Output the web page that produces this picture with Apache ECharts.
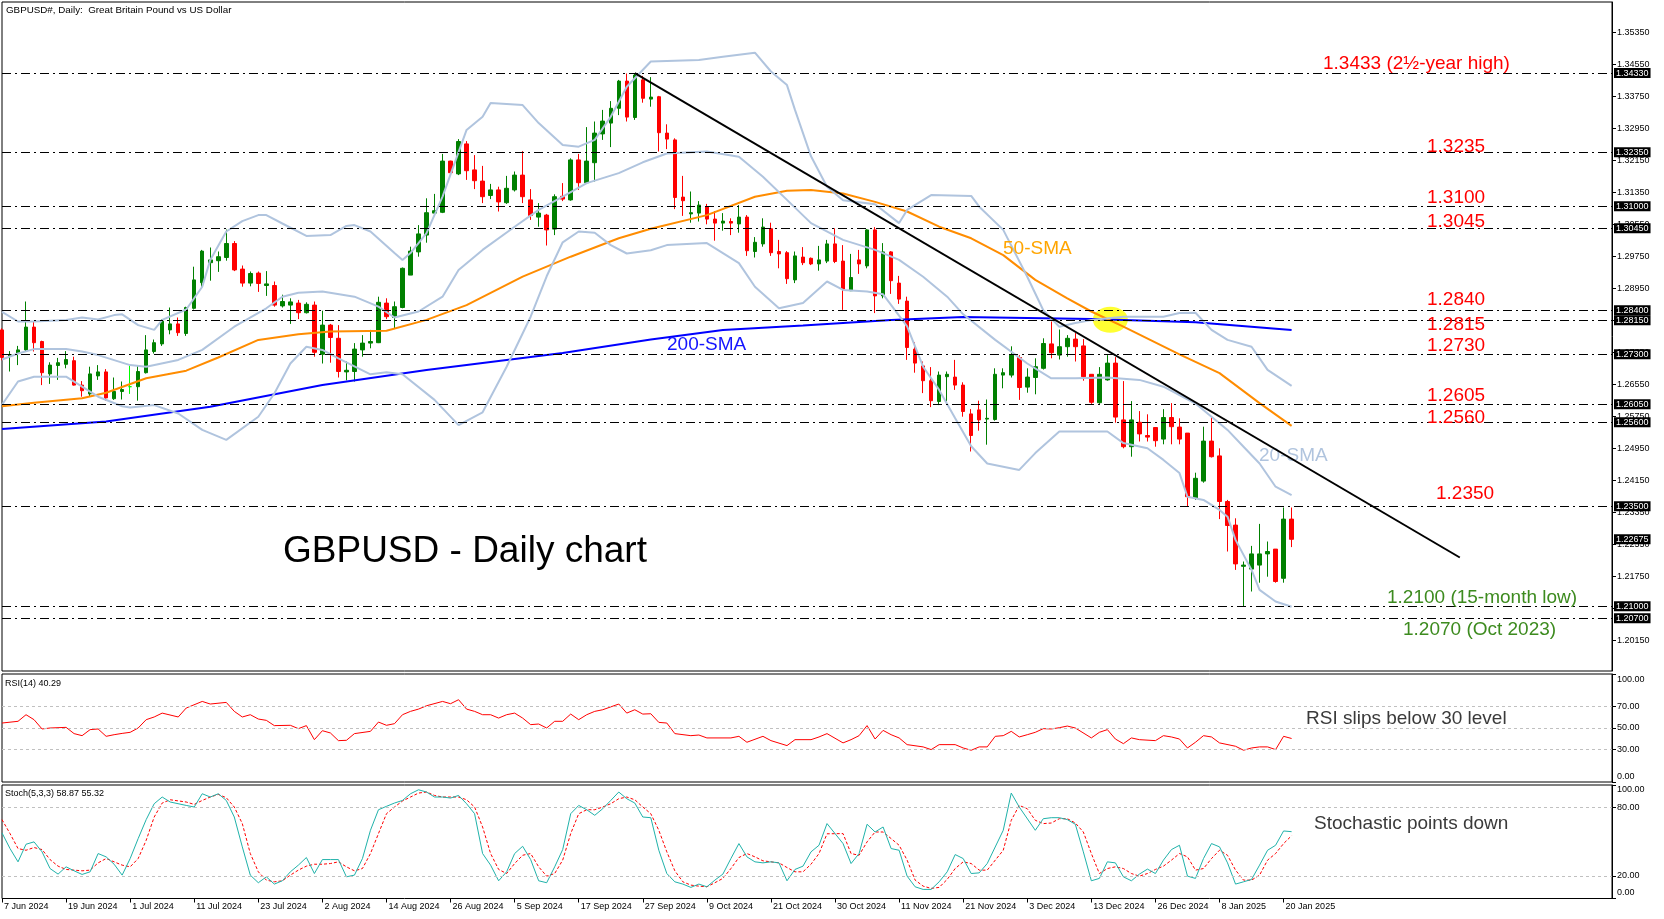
<!DOCTYPE html>
<html><head><meta charset="utf-8">
<script src="https://cdn.jsdelivr.net/npm/echarts@6/dist/echarts.min.js"></script>
<style>html,body{margin:0;padding:0;background:#fff}#c{width:1664px;height:919px}</style>
</head><body><div id="c"></div>
<script>
// ---------------- DATA ----------------
const dateLabels = ['7 Jun 2024','19 Jun 2024','1 Jul 2024','11 Jul 2024','23 Jul 2024','2 Aug 2024','14 Aug 2024','26 Aug 2024','5 Sep 2024','17 Sep 2024','27 Sep 2024','9 Oct 2024','21 Oct 2024','30 Oct 2024','11 Nov 2024','21 Nov 2024','3 Dec 2024','13 Dec 2024','26 Dec 2024','8 Jan 2025','20 Jan 2025'];
const barsPerLabel = 8;
const totalSlots = 202;
// [open, close, low, high]
const ohlc = [
[1.2791,1.2722,1.2715,1.2795],[1.2725,1.2729,1.2687,1.2738],[1.2732,1.2741,1.2703,1.2751],[1.2741,1.2798,1.2738,1.2862],[1.2798,1.2759,1.2737,1.2812],
[1.2762,1.2684,1.2653,1.2764],[1.2681,1.2703,1.2656,1.2710],[1.2702,1.2709,1.2666,1.2721],[1.2705,1.2717,1.2695,1.2738],[1.2714,1.2653,1.2652,1.2724],
[1.2653,1.2639,1.2624,1.2663],[1.2631,1.2681,1.2624,1.2699],[1.2676,1.2686,1.2666,1.2703],[1.2686,1.2621,1.2614,1.2693],[1.2619,1.2637,1.2616,1.2672],
[1.2637,1.2642,1.2617,1.2662],[1.2649,1.2649,1.2631,1.2702],[1.2649,1.2687,1.2614,1.2703],[1.2684,1.2741,1.2682,1.2778],[1.2737,1.2759,1.2732,1.2767],
[1.2756,1.2813,1.2751,1.2818],[1.2791,1.2806,1.2780,1.2847],[1.2806,1.2784,1.2776,1.2822],[1.2782,1.2847,1.2776,1.2849],[1.2845,1.2916,1.2842,1.2949],
[1.2909,1.2988,1.2899,1.2991],[1.2959,1.2966,1.2914,1.2997],[1.2964,1.2974,1.2936,1.2987],[1.2972,1.3007,1.2964,1.3042],[1.3007,1.2941,1.2938,1.3013],
[1.2943,1.2908,1.2899,1.2952],[1.2908,1.2932,1.2900,1.2937],[1.2933,1.2907,1.2886,1.2937],[1.2902,1.2906,1.2876,1.2938],[1.2902,1.2853,1.2849,1.2912],
[1.2851,1.2862,1.2847,1.2879],[1.2853,1.2861,1.2806,1.2870],[1.2858,1.2834,1.2818,1.2866],[1.2834,1.2855,1.2832,1.2860],[1.2853,1.2735,1.2724,1.2862],
[1.2730,1.2803,1.2707,1.2839],[1.2803,1.2772,1.2709,1.2806],[1.2770,1.2687,1.2672,1.2803],[1.2686,1.2690,1.2665,1.2712],[1.2687,1.2743,1.2662,1.2758],
[1.2741,1.2758,1.2724,1.2778],[1.2758,1.2762,1.2745,1.2791],[1.2759,1.2860,1.2758,1.2874],[1.2858,1.2824,1.2818,1.2870],[1.2822,1.2849,1.2795,1.2862],
[1.2847,1.2945,1.2845,1.2947],[1.2928,1.2988,1.2928,1.2999],[1.2986,1.3031,1.2974,1.3053],[1.3028,1.3084,1.3009,1.3120],[1.3083,1.3089,1.3077,1.3131],
[1.3085,1.3213,1.3083,1.3231],[1.3213,1.3184,1.3178,1.3214],[1.3181,1.3262,1.3178,1.3268],[1.3256,1.3189,1.3166,1.3263],[1.3191,1.3164,1.3143,1.3228],
[1.3163,1.3124,1.3108,1.3201],[1.3127,1.3141,1.3118,1.3156],[1.3141,1.3111,1.3087,1.3149],[1.3109,1.3145,1.3106,1.3176],[1.3141,1.3178,1.3137,1.3187],
[1.3178,1.3124,1.3108,1.3238],[1.3116,1.3077,1.3066,1.3143],[1.3073,1.3083,1.3049,1.3108],[1.3078,1.3041,1.3002,1.3081],[1.3043,1.3124,1.3028,1.3130],
[1.3125,1.3118,1.3113,1.3158],[1.3116,1.3216,1.3114,1.3220],[1.3216,1.3159,1.3141,1.3231],[1.3159,1.3213,1.3156,1.3298],[1.3209,1.3283,1.3162,1.3312],
[1.3281,1.3313,1.3266,1.3341],[1.3308,1.3345,1.3248,1.3363],[1.3345,1.3413,1.3328,1.3416],[1.3413,1.3323,1.3312,1.3432],[1.3322,1.3428,1.3316,1.3433],
[1.3416,1.3370,1.3359,1.3426],[1.3368,1.3373,1.3349,1.3423],[1.3374,1.3284,1.3237,1.3376],[1.3283,1.3268,1.3243,1.3305],[1.3266,1.3122,1.3093,1.3270],
[1.3123,1.3114,1.3076,1.3176],[1.3081,1.3084,1.3059,1.3137],[1.3083,1.3103,1.3062,1.3113],[1.3099,1.3068,1.3055,1.3106],[1.3068,1.3058,1.3014,1.3088],
[1.3058,1.3063,1.3039,1.3083],[1.3062,1.3058,1.3028,1.3070],[1.3056,1.3073,1.3034,1.3103],[1.3073,1.2989,1.2976,1.3078],[1.2987,1.3010,1.2972,1.3023],
[1.3006,1.3048,1.2999,1.3070],[1.3044,1.2984,1.2976,1.3059],[1.2987,1.2981,1.2945,1.3016],[1.2984,1.2919,1.2906,1.2988],[1.2916,1.2976,1.2908,1.2987],
[1.2973,1.2959,1.2953,1.2998],[1.2970,1.2956,1.2953,1.2972],[1.2956,1.2966,1.2939,1.3001],[1.2963,1.3006,1.2958,1.3016],[1.3006,1.2962,1.2958,1.3045],
[1.2963,1.2893,1.2841,1.3003],[1.2889,1.2922,1.2888,1.2981],[1.2966,1.2956,1.2931,1.2991],[1.2951,1.3041,1.2945,1.3043],[1.3041,1.2876,1.2833,1.3048],
[1.2876,1.2986,1.2870,1.3008],[1.2986,1.2914,1.2881,1.2988],[1.2908,1.2868,1.2856,1.2926],[1.2863,1.2747,1.2716,1.2874],[1.2743,1.2708,1.2684,1.2760],
[1.2701,1.2664,1.2633,1.2712],[1.2664,1.2614,1.2598,1.2698],[1.2612,1.2678,1.2603,1.2687],[1.2674,1.2680,1.2612,1.2687],[1.2673,1.2653,1.2641,1.2716],
[1.2653,1.2587,1.2574,1.2660],[1.2581,1.2527,1.2487,1.2593],[1.2591,1.2566,1.2539,1.2614],[1.2568,1.2570,1.2504,1.2617],[1.2567,1.2680,1.2564,1.2695],
[1.2678,1.2684,1.2645,1.2695],[1.2678,1.2728,1.2672,1.2750],[1.2722,1.2647,1.2616,1.2728],[1.2648,1.2673,1.2634,1.2695],[1.2672,1.2699,1.2630,1.2720],
[1.2695,1.2757,1.2692,1.2770],[1.2756,1.2734,1.2720,1.2812],[1.2728,1.2749,1.2717,1.2792],[1.2749,1.2770,1.2724,1.2778],[1.2768,1.2749,1.2712,1.2783],
[1.2751,1.2674,1.2664,1.2768],[1.2680,1.2610,1.2606,1.2680],[1.2609,1.2680,1.2606,1.2698],[1.2666,1.2708,1.2664,1.2728],[1.2708,1.2573,1.2559,1.2723],
[1.2566,1.2499,1.2495,1.2663],[1.2499,1.2566,1.2474,1.2613],[1.2560,1.2531,1.2512,1.2588],[1.2527,1.2523,1.2512,1.2580],[1.2547,1.2514,1.2499,1.2547],
[1.2518,1.2572,1.2505,1.2593],[1.2572,1.2549,1.2505,1.2608],[1.2548,1.2518,1.2505,1.2570],[1.2533,1.2374,1.2349,1.2533],[1.2370,1.2420,1.2366,1.2434],
[1.2413,1.2513,1.2409,1.2549],[1.2513,1.2474,1.2472,1.2574],[1.2476,1.2362,1.2318,1.2495],[1.2362,1.2302,1.2237,1.2366],[1.2303,1.2206,1.2191,1.2320],
[1.2200,1.2203,1.2100,1.2212],[1.2193,1.2231,1.2137,1.2251],[1.2203,1.2231,1.2159,1.2306],[1.2231,1.2237,1.2174,1.2262],[1.2243,1.2162,1.2159,1.2243],
[1.2170,1.2318,1.2159,1.2347],[1.2318,1.22675,1.2248,1.2347]
];
const dojiBars = [16];

const bbUpper = [[0,1.2836],[2,1.2812],[4,1.2812],[8,1.2816],[10,1.2822],[12,1.2817],[14,1.2828],[15,1.2830],[17,1.2803],[19,1.2791],[20,1.2816],[23,1.2842],[25,1.2899],[26,1.2966],[28,1.3037],[30,1.3063],[32,1.3078],[33,1.3078],[35,1.3057],[38,1.3026],[41,1.3028],[43,1.3051],[44,1.3053],[46,1.3037],[49,1.2983],[50,1.2966],[51,1.2983],[53,1.3033],[55,1.3124],[58,1.3291],[60,1.3324],[61,1.3358],[65,1.3353],[67,1.3308],[70,1.3253],[72,1.3249],[74,1.3266],[76,1.3324],[78,1.3399],[81,1.3462],[87,1.3466],[90,1.3474],[94,1.3484],[96,1.3437],[98,1.3403],[99,1.3341],[101,1.3225],[103,1.3149],[105,1.3115],[109,1.3105],[112,1.3058],[113,1.3091],[116,1.3128],[121,1.3126],[122,1.3099],[125,1.3041],[128,1.2924],[130,1.2840],[132,1.2799],[134,1.2808],[136,1.2816],[140,1.2824],[145,1.2824],[147,1.2833],[149,1.2834],[151,1.2791],[153,1.2766],[156,1.2749],[158,1.2691],[161,1.2651]];
const bbMiddle = [[0,1.2717],[2,1.2732],[4,1.2743],[8,1.2743],[10,1.2737],[12,1.2728],[16,1.2703],[18,1.2699],[22,1.2716],[25,1.2741],[29,1.2799],[33,1.2845],[35,1.2874],[37,1.2884],[40,1.2887],[44,1.2874],[47,1.2849],[49,1.2822],[52,1.2837],[55,1.2874],[57,1.2941],[60,1.2991],[64,1.3049],[67,1.3091],[70,1.3124],[73,1.3158],[77,1.3183],[80,1.3210],[83,1.3232],[88,1.3237],[92,1.3224],[95,1.3174],[98,1.3116],[101,1.3058],[105,1.3016],[109,1.2991],[112,1.2966],[115,1.2924],[118,1.2874],[120,1.2830],[124,1.2766],[128,1.2707],[131,1.2670],[134,1.2670],[138,1.2672],[142,1.2666],[145,1.2649],[149,1.2607],[151,1.2574],[153,1.2541],[155,1.2499],[157,1.2457],[159,1.2399],[161,1.2378]];
const bbLower = [[0,1.2604],[2,1.2662],[4,1.2674],[8,1.2674],[10,1.2649],[12,1.2624],[15,1.2600],[16,1.2597],[19,1.2603],[22,1.2582],[25,1.2541],[28,1.2516],[32,1.2574],[34,1.2632],[36,1.2707],[38,1.2749],[40,1.2741],[42,1.2720],[44,1.2700],[46,1.2680],[48,1.2685],[50,1.2680],[54,1.2616],[57,1.2553],[60,1.2585],[63,1.2699],[66,1.2824],[68,1.2925],[70,1.3010],[72,1.3037],[74,1.3034],[76,1.3003],[78,1.2982],[81,1.2990],[83,1.3003],[88,1.3008],[92,1.2958],[94,1.2899],[97,1.2845],[100,1.2858],[103,1.2912],[105,1.2891],[108,1.2887],[110,1.2880],[113,1.2800],[114,1.2749],[115,1.2699],[117,1.2641],[119,1.2570],[121,1.2500],[123,1.2457],[127,1.2441],[129,1.2483],[132,1.2537],[138,1.2537],[140,1.2508],[143,1.2495],[145,1.2466],[147,1.2433],[148,1.2374],[150,1.2366],[152,1.2341],[153,1.2324],[154,1.2266],[156,1.2191],[157,1.2141],[159,1.2112],[161,1.2099]];
const sma50 = [[0,1.2600],[4,1.2609],[10,1.2620],[13,1.2634],[18,1.2670],[23,1.2689],[27,1.2722],[32,1.2766],[37,1.2780],[41,1.2787],[48,1.2789],[53,1.2816],[58,1.2853],[65,1.2924],[71,1.2974],[77,1.3020],[81,1.3044],[88,1.3078],[94,1.3124],[98,1.3139],[101,1.3141],[105,1.3132],[109,1.3111],[113,1.3087],[117,1.3049],[121,1.3020],[125,1.2978],[129,1.2916],[133,1.2870],[136,1.2837],[140,1.2799],[147,1.2730],[152,1.2683],[157,1.2608],[161,1.2551]];
const sma200 = [[0,1.2543],[13,1.2562],[26,1.2599],[40,1.2653],[53,1.2691],[70,1.2733],[81,1.2767],[90,1.2791],[100,1.2802],[111,1.2816],[120,1.2823],[136,1.2818],[149,1.2810],[161,1.2791]];
const trendLine = [[79,1.3433],[182,1.2222]];
const crossMarker = [[138,1.28165]];

const levels = [1.3433,1.3235,1.3100,1.3045,1.2840,1.2815,1.2730,1.2605,1.2560,1.2350,1.2100,1.2070];
const lastPrice = 1.22675;
const priceTicks = [1.3535,1.3455,1.3375,1.3295,1.3215,1.3135,1.3055,1.2975,1.2895,1.2815,1.2735,1.2655,1.2575,1.2495,1.2415,1.2335,1.2255,1.2175,1.2095,1.2015];
const rsiTicks = [0,30,50,70,100];
const rsiLevels = [70,50,30];
const stochTicks = [0,20,80,100];
const stochLevels = [80,20];

const rsi = [[0,54.6],[2,56.2],[3,62.3],[4,57.7],[5,49.1],[6,50],[8,50.6],[9,44.8],[10,42.9],[11,48.5],[12,49.1],[13,42.3],[14,43.8],[15,45],[16,46],[17,50],[18,57.7],[19,60.2],[20,63.8],[22,60.2],[23,68.5],[25,74.6],[26,72.2],[28,73.7],[29,65.4],[30,60.2],[31,62.3],[32,58.3],[33,57.1],[34,52.2],[36,52.5],[37,49.4],[38,52.2],[39,39.2],[40,47.5],[41,45.4],[42,38.3],[43,38.6],[44,44.8],[46,46.9],[47,55.5],[48,52.5],[49,54],[50,62.3],[51,65.4],[52,67.5],[53,70.6],[55,74.6],[56,72.5],[57,76.2],[58,67.5],[59,65.4],[60,62.3],[61,62.3],[62,59.2],[63,62.3],[64,63.8],[65,59.2],[66,53.1],[67,53.7],[68,50],[69,56.2],[70,56.2],[71,62.9],[72,57.7],[73,62.3],[74,65.4],[75,66.9],[77,72.2],[78,63.8],[79,66.9],[80,62.9],[81,63.2],[82,55.2],[83,54.6],[84,44.8],[86,42.9],[87,43.5],[88,40.8],[91,40.8],[92,42.3],[93,36.8],[95,42.3],[96,38.3],[98,33.7],[99,39.2],[101,39.2],[102,41.7],[103,44.8],[105,36.2],[106,39.2],[107,42.9],[108,52.2],[109,39.8],[110,47.8],[111,43.8],[112,40.8],[113,34.6],[115,32.5],[116,30],[117,34.6],[119,34.6],[120,31.5],[121,29.4],[122,32.5],[123,32.5],[124,42.3],[125,42.9],[126,46.9],[127,41.7],[128,43.8],[129,46],[130,49.4],[131,49.1],[132,50.3],[133,51.8],[134,50],[136,40.8],[137,46],[138,48.5],[139,39.8],[140,35.5],[141,40.8],[142,39.2],[144,38.3],[145,42.9],[146,41.7],[147,39.8],[148,31.5],[149,36.8],[150,42.9],[151,41.7],[152,36.2],[154,33.1],[155,29.4],[156,31.5],[157,32.5],[158,32.5],[159,30],[160,42.3],[161,40.29]];
const stochK = [[0,57.8],[1,44],[2,32.3],[3,47.8],[4,49.9],[5,41.1],[6,26.4],[7,21.5],[8,27.9],[9,24.4],[10,21.2],[11,23.5],[12,39.6],[13,36.7],[14,30.2],[15,20.6],[16,35.2],[17,52.8],[18,69.5],[19,83.5],[20,89.4],[21,85],[23,82],[24,80.6],[25,92.3],[26,89.4],[27,92.3],[28,86.4],[29,71.8],[30,45.5],[31,20.6],[32,13.9],[33,19.1],[34,12.7],[35,15.6],[36,23.5],[37,29.4],[38,36.1],[39,22],[40,34.3],[41,34.3],[42,34.3],[43,19.1],[44,20.6],[45,35.2],[46,60.1],[47,78.2],[48,81.2],[49,84.1],[50,86.4],[51,92.3],[52,95.8],[53,93.8],[54,89.4],[55,89.4],[56,88.5],[57,90.8],[58,83.5],[59,74.7],[60,39.6],[61,29.4],[62,15.6],[63,23.5],[64,39.6],[65,46],[66,34.3],[67,15.6],[68,13.9],[69,27.9],[70,43.1],[71,74.7],[72,82],[73,78.2],[74,73.3],[75,79.1],[76,86.4],[77,93.8],[78,87.9],[79,84.1],[80,71.8],[81,71.2],[82,42.5],[83,22],[84,14.7],[85,12.7],[86,9.8],[87,12.7],[88,10.3],[89,16.2],[90,21.5],[91,35.2],[92,48.4],[93,36.7],[94,32.3],[95,31.4],[96,32.3],[97,31.4],[98,15.6],[99,25.6],[100,28.5],[101,41.1],[102,46.9],[103,66],[105,48.4],[106,30.8],[107,39.6],[108,65.4],[109,58.6],[110,63],[111,44],[112,42.5],[113,19.7],[114,10.3],[115,8],[116,8],[117,14.7],[118,23.5],[119,38.7],[120,35.2],[121,22],[122,22.6],[123,30.8],[125,60.1],[126,92.9],[127,80.6],[129,60.1],[130,70.3],[131,71.2],[132,71.2],[133,69.5],[134,65.4],[135,41.1],[136,15.6],[137,17.7],[138,32.3],[139,31.4],[140,19.1],[141,15.6],[142,21.5],[143,25.9],[144,22],[145,33.8],[146,43.1],[147,46.9],[148,19.7],[149,17.7],[150,35.2],[151,48.4],[152,45.5],[153,31.4],[154,12.7],[155,14.7],[156,16.8],[157,29.4],[158,42.5],[159,46.9],[160,59.5],[161,58.87]];
const stochD = [[0,69.5],[1,57.2],[2,44],[3,42.5],[4,44.9],[5,43.1],[6,34.3],[7,28.5],[8,25.6],[9,25],[10,24.4],[11,25],[12,31.4],[13,35.2],[14,32.3],[15,29.4],[16,27.9],[17,35.2],[18,51.3],[19,71.8],[20,84.1],[21,87],[23,85],[24,82.9],[25,86.4],[26,89.4],[27,91.7],[28,88.8],[29,80.6],[30,66],[31,39.6],[32,23.5],[33,16.2],[34,14.7],[35,15.6],[36,20.6],[37,25],[38,28.5],[39,30.2],[40,30.2],[41,30.8],[42,32.3],[43,27.9],[44,24.4],[45,26.4],[46,39.6],[47,57.2],[48,74.7],[49,80.6],[50,85.9],[51,89.4],[52,92.9],[53,93.8],[54,90.8],[55,89.4],[56,89.4],[57,89.4],[58,87],[59,80.6],[60,63],[61,39.6],[62,25.6],[63,22],[64,30.8],[65,38.1],[66,39.6],[67,27.9],[68,19.7],[69,22],[70,33.8],[71,57.2],[72,74.7],[73,78.2],[74,78.2],[75,80.6],[76,83.5],[77,87.9],[78,89.4],[79,87],[80,80.6],[81,74.7],[82,60.1],[83,41.1],[84,24.4],[85,14.7],[86,11.8],[87,10.9],[88,10.3],[89,13.9],[90,17.7],[91,26.4],[92,36.1],[93,39.6],[94,36.7],[95,33.2],[96,32.3],[97,31.4],[98,27.3],[99,23.5],[100,23.5],[101,30.2],[102,39.6],[103,57],[105,57.2],[106,39.6],[107,38.1],[108,49.9],[109,58.6],[110,58.6],[111,52.8],[112,46.9],[113,33.8],[114,16.2],[115,10.9],[116,8.9],[117,9.8],[118,16.8],[119,26.4],[120,32.3],[121,30.8],[122,25],[123,25],[125,42.5],[126,68.9],[127,82],[128,79.1],[129,68.9],[130,66],[131,66.5],[132,70.3],[133,70.3],[134,66.5],[135,58.6],[136,39.6],[137,22],[138,26.4],[139,27.9],[140,26.4],[141,22],[142,19.7],[143,22],[144,25.6],[145,28.5],[146,33.8],[147,39.6],[148,36.7],[149,25],[150,26.4],[151,35.2],[152,42.5],[153,38.1],[154,25],[155,16.2],[156,16.2],[157,20.6],[158,33.8],[159,39.6],[160,48.4],[161,55.32]];

// ---------------- CHART ----------------
const SMALL = '"Liberation Sans", Arial, sans-serif';
const slots = Array.from({length: totalSlots}, (_, i) => String(i));
const isLabelSlot = (i) => i % barsPerLabel === 0 && (i / barsPerLabel) < dateLabels.length;

const candleData = ohlc.map((v, i) => dojiBars.includes(i)
  ? {value: v, itemStyle: {color:'#00ff00', color0:'#00ff00', borderColor:'#00ff00', borderColor0:'#00ff00'}}
  : v);

function lineS(data, color, width, z, xi, yi, extra) {
  return Object.assign({type:'line', data, xAxisIndex:xi, yAxisIndex:yi, symbol:'none', showSymbol:false,
    lineStyle:{color, width}, itemStyle:{color}, z, silent:true, animation:false}, extra || {});
}
const smallLbl = {fontSize:9, fontFamily:SMALL, color:'#000'};
const boxLabel = {show:true, position:'end', distance:2, formatter:(p)=>Number(p.value).toFixed(5),
  color:'#fff', backgroundColor:'#000', padding:[1,2,0,2], fontSize:9, fontFamily:SMALL};

const option = {
  animation: false,
  backgroundColor: '#fff',
  grid: [
    {left:2, right:52, top:2, height:669, show:true, borderColor:'#000', borderWidth:1, backgroundColor:'transparent'},
    {left:2, right:52, top:674, height:108, show:true, borderColor:'#000', borderWidth:1},
    {left:2, right:52, top:785, height:113.5, show:true, borderColor:'#000', borderWidth:1}
  ],
  xAxis: [
    {type:'category', gridIndex:0, data:slots, boundaryGap:false, show:false},
    {type:'category', gridIndex:1, data:slots, boundaryGap:false, show:false},
    {type:'category', gridIndex:2, data:slots, boundaryGap:false,
      axisLine:{show:false},
      axisTick:{show:true, interval:(i)=>isLabelSlot(i), length:4, lineStyle:{color:'#000'}},
      axisLabel:{show:true, interval:(i)=>isLabelSlot(i), align:'left', margin:4, padding:[0,0,0,2],
        formatter:(v, i)=> isLabelSlot(i) ? dateLabels[i / barsPerLabel] : '', ...smallLbl},
      splitLine:{show:false}}
  ],
  yAxis: [
    {type:'value', gridIndex:0, position:'right', min:1.193825, max:1.361075, splitLine:{show:false},
      axisLine:{show:true, lineStyle:{color:'#000'}},
      axisTick:{show:true, length:4, customValues:priceTicks, lineStyle:{color:'#000'}},
      axisLabel:{show:true, customValues:priceTicks, margin:5, formatter:(v)=>v.toFixed(5), ...smallLbl}},
    {type:'value', gridIndex:1, position:'right', min:0, max:100, splitLine:{show:false},
      axisLine:{show:true, lineStyle:{color:'#000'}},
      axisTick:{show:true, length:4, customValues:rsiTicks, lineStyle:{color:'#000'}},
      axisLabel:{show:true, customValues:rsiTicks, margin:5,
        formatter:(v)=> v===100 ? '{t|100.00}' : v===0 ? '{b|0.00}' : v.toFixed(2),
        rich:{t:{padding:[12,0,0,0], ...smallLbl}, b:{padding:[0,0,11,0], ...smallLbl}}, ...smallLbl}},
    {type:'value', gridIndex:2, position:'right', min:0, max:100, splitLine:{show:false},
      axisLine:{show:true, lineStyle:{color:'#000'}},
      axisTick:{show:true, length:4, customValues:stochTicks, lineStyle:{color:'#000'}},
      axisLabel:{show:true, customValues:stochTicks, margin:5,
        formatter:(v)=> v===100 ? '{t|100.00}' : v===0 ? '{b|0.00}' : v.toFixed(2),
        rich:{t:{padding:[10,0,0,0], ...smallLbl}, b:{padding:[0,0,12,0], ...smallLbl}}, ...smallLbl}}
  ],
  series: [
    {type:'scatter', xAxisIndex:0, yAxisIndex:0, data:crossMarker, symbol:'circle', symbolSize:[35,26], symbolOffset:[3,0],
      itemStyle:{color:'#ffff00'}, z:1, silent:true},
    {type:'candlestick', xAxisIndex:0, yAxisIndex:0, data:candleData, barWidth:4, z:2,
      itemStyle:{color:'#008000', color0:'#ff0000', borderColor:'#008000', borderColor0:'#ff0000', borderWidth:1},
      markLine:{silent:true, symbol:['none','none'], animation:false, precision:5,
        lineStyle:{color:'#000', width:1, type:[9,4,2,4]},
        label:boxLabel,
        data: levels.map(v => ({yAxis:v})).concat([{yAxis:lastPrice, lineStyle:{color:'rgba(0,0,0,0)', width:0.01},
          label:boxLabel}])}},
    lineS(sma200, '#0000ff', 2, 3, 0, 0),
    lineS(sma50, '#ff8c00', 2, 3, 0, 0),
    lineS(bbUpper, '#b0c4de', 2, 3, 0, 0),
    lineS(bbMiddle, '#b0c4de', 2, 3, 0, 0),
    lineS(bbLower, '#b0c4de', 2, 3, 0, 0),
    lineS(trendLine, '#000000', 2, 6, 0, 0),
    lineS(rsi, '#ff0000', 1, 3, 1, 1, {markLine:{silent:true, symbol:['none','none'], label:{show:false}, precision:2,
      lineStyle:{color:'#c0c0c0', width:1, type:[3,3]}, data: rsiLevels.map(v=>({yAxis:v}))}}),
    lineS(stochK, '#20b2aa', 1, 4, 2, 2, {markLine:{silent:true, symbol:['none','none'], label:{show:false}, precision:2,
      lineStyle:{color:'#c0c0c0', width:1, type:[3,3]}, data: stochLevels.map(v=>({yAxis:v}))}}),
    lineS(stochD, '#ff0000', 1, 3, 2, 2, {lineStyle:{color:'#ff0000', width:1, type:[3,2]}})
  ],
  graphic: {elements: []}
};

const BIG = (px) => 'normal ' + px + 'px "Liberation Sans", Arial, sans-serif';
const notes = [
  ['GBPUSD#, Daily:  Great Britain Pound vs US Dollar', 6, 10, BIG(9.8), '#000', 50],
  ['1.3433 (2\u00bd-year high)', 1323, 64, BIG(19), '#ff0000', 50],
  ['1.3235', 1427, 146.5, BIG(19), '#ff0000', 50],
  ['1.3100', 1427, 198, BIG(19), '#ff0000', 50],
  ['1.3045', 1427, 221.5, BIG(19), '#ff0000', 50],
  ['1.2840', 1427, 300, BIG(19), '#ff0000', 50],
  ['1.2815', 1427, 325, BIG(19), '#ff0000', 50],
  ['1.2730', 1427, 346, BIG(19), '#ff0000', 50],
  ['1.2605', 1427, 396, BIG(19), '#ff0000', 50],
  ['1.2560', 1427, 417.5, BIG(19), '#ff0000', 50],
  ['1.2350', 1436, 494, BIG(19), '#ff0000', 50],
  ['1.2100 (15-month low)', 1387, 598, BIG(19), '#3d8b1f', 50],
  ['1.2070 (Oct 2023)', 1403, 630, BIG(19), '#3d8b1f', 50],
  ['50-SMA', 1003, 248.5, BIG(19), '#ffa500', 50],
  ['200-SMA', 667, 345, BIG(19), '#1414ff', 50],
  ['20-SMA', 1259, 455.5, BIG(19), '#b0c4de', 1],
  ['GBPUSD - Daily chart', 283, 552, BIG(37), '#000', 50],
  ['RSI(14) 40.29', 5, 683.5, BIG(9), '#000', 50],
  ['RSI slips below 30 level', 1306, 719, BIG(19), '#3a3a3a', 50],
  ['Stoch(5,3,3) 58.87 55.32', 5, 793.5, BIG(9), '#000', 50],
  ['Stochastic points down', 1314, 823.5, BIG(19), '#3a3a3a', 50]
];
option.graphic.elements = notes.map(n => ({type:'text', x:n[1], y:n[2], z:n[5], silent:true,
  style:{text:n[0], font:n[3], fill:n[4], align:'left', verticalAlign:'middle', textAlign:'left', textVerticalAlign:'middle'}}));

const chart = echarts.init(document.getElementById('c'), null, {renderer:'canvas'});
chart.setOption(option);
</script>
</body></html>
